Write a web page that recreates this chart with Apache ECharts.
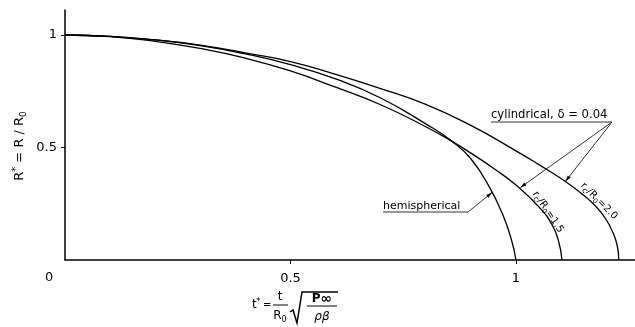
<!DOCTYPE html>
<html>
<head>
<meta charset="utf-8">
<script src="https://cdn.jsdelivr.net/npm/echarts@6/dist/echarts.min.js"></script>
<style>
  html, body { margin: 0; padding: 0; background: #fff; }
  #chart { width: 635px; height: 327px; }
</style>
</head>
<body>
<div id="chart"></div>
<script>
  // values (t*, R*)
  const xHemi = [0, 0.1, 0.2, 0.3, 0.4, 0.5, 0.6, 0.7, 0.8, 0.86, 0.9, 0.94, 0.97, 0.99, 1.0];
  const yHemi = [1, 0.994, 0.978, 0.953, 0.916, 0.868, 0.805, 0.720, 0.605, 0.525, 0.450, 0.328, 0.205, 0.090, 0];

  const x15 = [0, 0.1, 0.2, 0.3, 0.4, 0.5, 0.6, 0.7, 0.8, 0.86, 0.9, 0.95, 1.0, 1.05, 1.08, 1.095, 1.102];
  const y15 = [1, 0.993, 0.972, 0.940, 0.897, 0.840, 0.768, 0.690, 0.592, 0.525, 0.475, 0.408, 0.333, 0.238, 0.157, 0.080, 0];

  const x20 = [0, 0.1, 0.2, 0.3, 0.4, 0.5, 0.6, 0.7, 0.8, 0.9, 1.0, 1.05, 1.1, 1.15, 1.18, 1.2, 1.215, 1.225, 1.228];
  const y20 = [1, 0.994, 0.978, 0.955, 0.920, 0.882, 0.825, 0.762, 0.692, 0.598, 0.485, 0.425, 0.362, 0.288, 0.232, 0.180, 0.122, 0.060, 0];

  const xTicks = [0.5, 1];
  const yTicks = [0.5, 1];

  const FONT = 'DejaVu Sans';
  const pair = (xs, ys) => xs.map((x, i) => [x, ys[i]]);

  const chart = echarts.init(document.getElementById('chart'));

  const curve = (name, data) => ({
    name: name,
    type: 'line',
    data: data,
    showSymbol: false,
    smooth: 0.5,
    lineStyle: { color: '#000', width: 1.3 },
    silent: true
  });

  const option = {
    animation: false,
    backgroundColor: '#fff',
    grid: { left: 65, right: 0, top: 10, bottom: 67 },
    xAxis: {
      type: 'value',
      min: 0,
      max: 1.264,
      interval: 0.5,
      splitLine: { show: false },
      axisLine: { lineStyle: { color: '#000', width: 1.5 } },
      axisTick: { customValues: xTicks, length: 4, lineStyle: { color: '#000' } },
      axisLabel: {
        customValues: xTicks, color: '#000', fontSize: 13, fontFamily: FONT, margin: 12,
        formatter: v => (v === 0.5 || v === 1) ? String(v) : ''
      }
    },
    yAxis: {
      type: 'value',
      min: 0,
      max: 1.111,
      interval: 0.5,
      splitLine: { show: false },
      axisLine: { lineStyle: { color: '#000', width: 1.5 } },
      axisTick: { customValues: yTicks, length: 4, lineStyle: { color: '#000' } },
      axisLabel: {
        customValues: yTicks, color: '#000', fontSize: 13, fontFamily: FONT, margin: 8,
        formatter: v => (v === 0.5 || v === 1) ? String(v) : ''
      }
    },
    series: [
      curve('hemispherical', pair(xHemi, yHemi)),
      curve('rc/R0=1.5', pair(x15, y15)),
      curve('rc/R0=2.0', pair(x20, y20))
    ]
  };
  chart.setOption(option);

  // ---- annotations ----
  const ctx = document.createElement('canvas').getContext('2d');
  const tw = (s, size, style) => { ctx.font = (style || '') + ' ' + size + 'px "' + FONT + '"'; return ctx.measureText(s).width; };

  const txt = (s, x, y, size, extra) => ({
    type: 'text', x: x, y: y,
    style: Object.assign({
      text: s, fontSize: size, fontFamily: FONT, fill: '#000',
      textAlign: 'left', verticalAlign: 'middle', textVerticalAlign: 'middle'
    }, extra || {})
  });

  // lay out a run of text pieces (sub/superscripts) horizontally, centred on 0
  const run = (parts) => {
    const total = parts.reduce((a, p) => a + tw(p.t, p.s, p.st), 0);
    let cx = -total / 2;
    return parts.map(p => {
      const el = txt(p.t, cx, p.dy || 0, p.s, p.st ? { fontStyle: p.st } : null);
      cx += tw(p.t, p.s, p.st);
      return el;
    });
  };

  const line = (a, b, w) => ({
    type: 'line', shape: { x1: a[0], y1: a[1], x2: b[0], y2: b[1] },
    style: { stroke: '#000', lineWidth: w || 0.8 }
  });

  const arrow = (a, b) => {
    const dx = b[0] - a[0], dy = b[1] - a[1], L = Math.hypot(dx, dy);
    const ux = dx / L, uy = dy / L, len = 6, hw = 1.8;
    const bx = b[0] - ux * len, by = b[1] - uy * len;
    return [
      line(a, b, 0.8),
      { type: 'polygon', shape: { points: [b, [bx - uy * hw, by + ux * hw], [bx + uy * hw, by - ux * hw]] }, style: { fill: '#000' } }
    ];
  };

  const p = (x, y) => chart.convertToPixel({ gridIndex: 0 }, [x, y]);

  const g = [];

  // origin label
  g.push(txt('0', 45, 278, 13));

  // y axis title
  g.push({
    type: 'group', x: 20, y: 146, rotation: Math.PI / 2,
    children: run([
      { t: 'R', s: 13 }, { t: '*', s: 10, dy: -4 }, { t: ' = R / R', s: 13 }, { t: '0', s: 9, dy: 4 }
    ])
  });

  // x axis title: t* = t/R0 sqrt(P∞ / ρβ)
  g.push(txt('t', 252, 305, 12));
  g.push(txt('*', 256, 302, 9));
  g.push(txt('=', 263, 305, 10));
  g.push({ type: 'group', x: 280, y: 297, children: run([{ t: 't', s: 12 }]) });
  g.push(line([273, 305], [288, 305], 1));
  g.push({ type: 'group', x: 280, y: 316, children: run([{ t: 'R', s: 12 }, { t: '0', s: 8, dy: 4 }]) });
  g.push({
    type: 'polyline',
    shape: { points: [[290, 312], [293, 310], [297, 323], [302, 292], [338, 292]] },
    style: { stroke: '#000', lineWidth: 1.5, fill: null }
  });
  g.push({ type: 'group', x: 322, y: 299, children: run([{ t: 'P', s: 12, st: 'bold' }, { t: '∞', s: 14, st: 'bold' }]) });
  g.push(line([307, 306], [337, 306], 1));
  g.push({ type: 'group', x: 322, y: 317, children: run([{ t: 'ρβ', s: 12, st: 'italic' }]) });

  // hemispherical label
  g.push(txt('hemispherical', 383, 206, 11));
  g.push(line([383, 212], [468, 212], 0.8));
  g.push(...arrow([468, 212], p(0.947, 0.300)));

  // cylindrical label
  g.push(txt('cylindrical, δ = 0.04', 491, 115, 11.6));
  g.push(line([491, 122], [612, 122], 0.8));
  g.push(...arrow([612, 122], p(1.010, 0.322)));
  g.push(...arrow([612, 122], p(1.110, 0.350)));

  // rotated curve labels
  g.push({
    type: 'group', x: 548, y: 212, rotation: -56 * Math.PI / 180,
    children: run([
      { t: 'r', s: 10 }, { t: 'c', s: 8, dy: 3 }, { t: '/R', s: 10 }, { t: '0', s: 7, dy: 3 }, { t: '=1.5', s: 10 }
    ])
  });
  g.push({
    type: 'group', x: 599, y: 201, rotation: -45 * Math.PI / 180,
    children: run([
      { t: 'r', s: 10 }, { t: 'c', s: 8, dy: 3 }, { t: '/R', s: 10 }, { t: '0', s: 7, dy: 3 }, { t: '=2.0', s: 10 }
    ])
  });

  chart.setOption({ graphic: g });

  window.addEventListener('resize', () => chart.resize());
</script>
</body>
</html>
